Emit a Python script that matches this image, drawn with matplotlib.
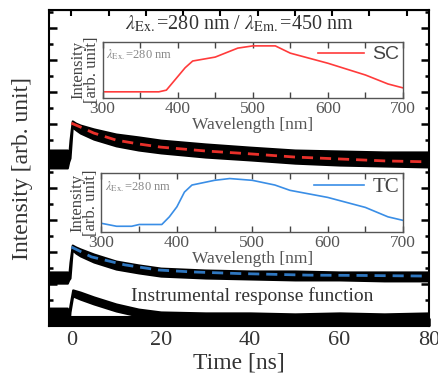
import matplotlib
matplotlib.use("Agg")
import matplotlib.pyplot as plt
from matplotlib.ticker import MultipleLocator, NullFormatter

plt.rcParams["font.family"] = ["Liberation Serif", "DejaVu Serif"]
plt.rcParams["mathtext.fontset"] = "stix"

# --- decay curves (time in ns, intensity in arbitrary offset units) ---
t_sc = [-5, -0.9, -0.6, -0.3, 0.2, 1, 2, 5, 10, 15, 20, 30, 40, 50, 60, 70, 80]
sc_hi = [5.19, 5.19, 5.00, 5.50, 6.10, 6.03, 5.97, 5.85, 5.69, 5.60, 5.50, 5.38, 5.28, 5.19, 5.16, 5.13, 5.13]
sc_lo = [4.63, 4.63, 4.82, 4.94, 5.91, 5.82, 5.72, 5.53, 5.32, 5.19, 5.10, 4.97, 4.88, 4.78, 4.72, 4.69, 4.66]
t_sc_fit = [0, 2, 5, 10, 15, 20, 30, 40, 50, 60, 70, 80]
sc_fit = [6.03, 5.91, 5.72, 5.50, 5.38, 5.28, 5.16, 5.07, 4.97, 4.91, 4.85, 4.82]

t_tc = [-5, -0.9, -0.6, -0.3, 0.2, 1, 2, 5, 10, 15, 20, 30, 40, 50, 60, 70, 80]
tc_hi = [1.38, 1.38, 1.25, 1.69, 2.22, 2.16, 2.10, 1.94, 1.72, 1.60, 1.50, 1.44, 1.41, 1.41, 1.38, 1.38, 1.38]
tc_lo = [1.03, 1.03, 1.13, 1.19, 2.07, 1.97, 1.88, 1.69, 1.47, 1.35, 1.25, 1.19, 1.16, 1.13, 1.13, 1.10, 1.10]
t_tc_fit = [0, 4.5, 12, 19.5, 27, 37.5, 53, 65, 80]
tc_fit = [2.16, 1.85, 1.60, 1.44, 1.38, 1.33, 1.28, 1.27, 1.25]

t_irf = [-5, -0.9, -0.6, -0.3, 0.3, 2, 5, 10, 15, 20, 30, 40, 50, 60, 70, 80]
irf_hi = [0.25, 0.25, 0.07, 0.35, 0.82, 0.75, 0.60, 0.38, 0.22, 0.13, 0.10, 0.10, 0.07, 0.10, 0.07, 0.10]
irf_lo = [-0.44, -0.44, -0.44, 0.13, 0.63, 0.53, 0.38, 0.16, 0.00, -0.44, -0.44, -0.44, -0.44, -0.44, -0.44, -0.44]
t_floor = [-5, 80]
irf_floor = [-0.03, -0.03]

# --- emission spectra (normalised) ---
sc_wl = [300, 375, 385, 400, 410, 420, 450, 480, 500, 530, 550, 600, 650, 680, 700]
sc_int = [0.11, 0.11, 0.14, 0.38, 0.54, 0.66, 0.73, 0.89, 0.93, 0.93, 0.80, 0.62, 0.41, 0.25, 0.18]
tc_wl = [300, 320, 340, 350, 380, 390, 400, 410, 420, 450, 470, 500, 530, 550, 600, 650, 680, 700]
tc_int = [0.15, 0.10, 0.10, 0.13, 0.13, 0.26, 0.43, 0.68, 0.80, 0.88, 0.91, 0.88, 0.80, 0.71, 0.59, 0.42, 0.26, 0.20]

TXT = "#333333"

fig = plt.figure(figsize=(4.39, 3.85), dpi=100)
ax = fig.add_axes([0.1116, 0.1532, 0.8656, 0.8208])

ax.fill_between(t_sc, sc_lo, sc_hi, color="black", lw=1.5, edgecolor="black")
ax.fill_between(t_tc, tc_lo, tc_hi, color="black", lw=1.5, edgecolor="black")
ax.fill_between(t_irf, irf_lo, irf_hi, color="black", lw=1.5, edgecolor="black")
ax.fill_between(t_floor, -0.5, irf_floor, color="black", lw=1.5, edgecolor="black")
ax.plot(t_sc_fit, sc_fit, color="#e8302a", lw=2, dashes=(4, 2.5))
ax.plot(t_tc_fit, tc_fit, color="#2f77c0", lw=2, dashes=(4, 2.5))

ax.set_xlim(-5, 80)
ax.set_ylim(-0.31, 9.565)
ax.xaxis.set_major_locator(MultipleLocator(20))
ax.xaxis.set_minor_locator(MultipleLocator(10))
ax.yaxis.set_major_locator(MultipleLocator(1))
ax.yaxis.set_minor_locator(MultipleLocator(0.5))
ax.yaxis.set_major_formatter(NullFormatter())
ax.tick_params(which="both", direction="in", left=True, right=True, bottom=True, top=False,
               width=1.8, colors="black", labelcolor=TXT, labelsize=16)
ax.tick_params(which="major", length=6)
ax.tick_params(which="minor", length=3)
for s in ax.spines.values():
    s.set_linewidth(1.5)

top = ax.secondary_xaxis("top")
top.xaxis.set_major_locator(MultipleLocator(25 / 3))
top.tick_params(direction="in", length=4, width=1.5, labeltop=False)

ax.set_xlabel("Time [ns]", fontsize=17, color=TXT, labelpad=2)
ax.set_ylabel("Intensity [arb. unit]", fontsize=17, color=TXT, labelpad=8)

ax.text(0.5, 0.955, r"$\lambda_{\rm Ex.}$=280 nm / $\lambda_{\rm Em.}$=450 nm",
        transform=ax.transAxes, ha="center", va="center", fontsize=14.5, color=TXT)
ax.text(0.535, 0.095, "Instrumental response function", transform=ax.transAxes,
        ha="center", va="center", fontsize=14, color=TXT)


def inset(rect, wl, val, color, label, lab_font):
    a = fig.add_axes(rect)
    a.plot(wl, val, color=color, lw=1.2, label=label)
    a.set_xlim(300, 700)
    a.set_ylim(0, 1)
    a.set_yticks([])
    a.xaxis.set_major_locator(MultipleLocator(100))
    a.xaxis.set_minor_locator(MultipleLocator(50))
    a.tick_params(which="both", direction="in", top=True, bottom=True, length=4,
                  width=1, colors="#444444", labelcolor="#555555", labelsize=12.5, pad=2)
    for s in a.spines.values():
        s.set_linewidth(1)
        s.set_color("#555555")
    a.set_xlabel("Wavelength [nm]", fontsize=12.5, color="#555555", labelpad=0)
    a.set_ylabel("Intensity\n[arb. unit]", fontsize=12, color="#444444",
                 labelpad=2, linespacing=0.75)
    a.text(0.01, 0.78, r"$\lambda_{\rm Ex.}$=280 nm", transform=a.transAxes,
           fontsize=9, color="#888888", va="center")
    leg = a.legend(loc="upper right", frameon=False, handlelength=2.4, handletextpad=0.4,
                   borderaxespad=0.0, borderpad=0.2, prop=lab_font)
    for txt in leg.get_texts():
        txt.set_color("#444444")
    return a


inset([0.2335, 0.7455, 0.6846, 0.1455], sc_wl, sc_int, "#ff3b3b", "SC",
      {"family": ["Liberation Sans", "DejaVu Sans"], "size": 14})
inset([0.2312, 0.397, 0.6869, 0.153], tc_wl, tc_int, "#3a8ee6", "TC",
      {"family": ["Liberation Serif", "DejaVu Serif"], "size": 15})

fig.savefig("out.png", dpi=100)
